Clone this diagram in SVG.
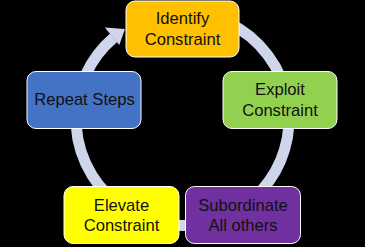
<svg xmlns="http://www.w3.org/2000/svg" width="365" height="247" viewBox="0 0 365 247">
<style>
.node rect{stroke:#ffffff;stroke-width:1;}
.node text{font-family:"Liberation Sans",Arial,sans-serif;font-size:16.6px;fill:#111111;text-anchor:middle;}
.ring{fill:none;stroke:#cfd5ea;stroke-width:11;}
</style>
<rect x="0" y="0" width="365" height="247" fill="#000000"/>
<g id="connectors">
<path class="ring" d="M182.5,12.5 A106.5,106.5 0 1 1 113.6,37.8"/>
<polygon points="104.8,27.6 125,29 119.3,45" fill="#cfd5ea"/>
</g>
<g id="identify" class="node">
<rect x="126" y="1" width="113" height="56" rx="9" fill="#ffc000"/>
<text x="182.5" y="24">Identify</text>
<text x="182.5" y="44.5">Constraint</text>
</g>
<g id="exploit" class="node">
<rect x="223" y="71.5" width="114" height="57" rx="9" fill="#92d050"/>
<text x="280" y="95">Exploit</text>
<text x="280" y="115.5">Constraint</text>
</g>
<g id="subordinate" class="node">
<rect x="185.5" y="186.5" width="115" height="57" rx="9" fill="#7030a0"/>
<text x="243" y="210.5">Subordinate</text>
<text x="243" y="231">All others</text>
</g>
<g id="elevate" class="node">
<rect x="64" y="186.5" width="115" height="57" rx="9" fill="#ffff00"/>
<text x="121.5" y="210.5">Elevate</text>
<text x="121.5" y="231">Constraint</text>
</g>
<g id="repeat" class="node">
<rect x="27" y="71.5" width="114" height="57" rx="9" fill="#4472c4"/>
<text x="84.5" y="104.5">Repeat Steps</text>
</g>
</svg>
